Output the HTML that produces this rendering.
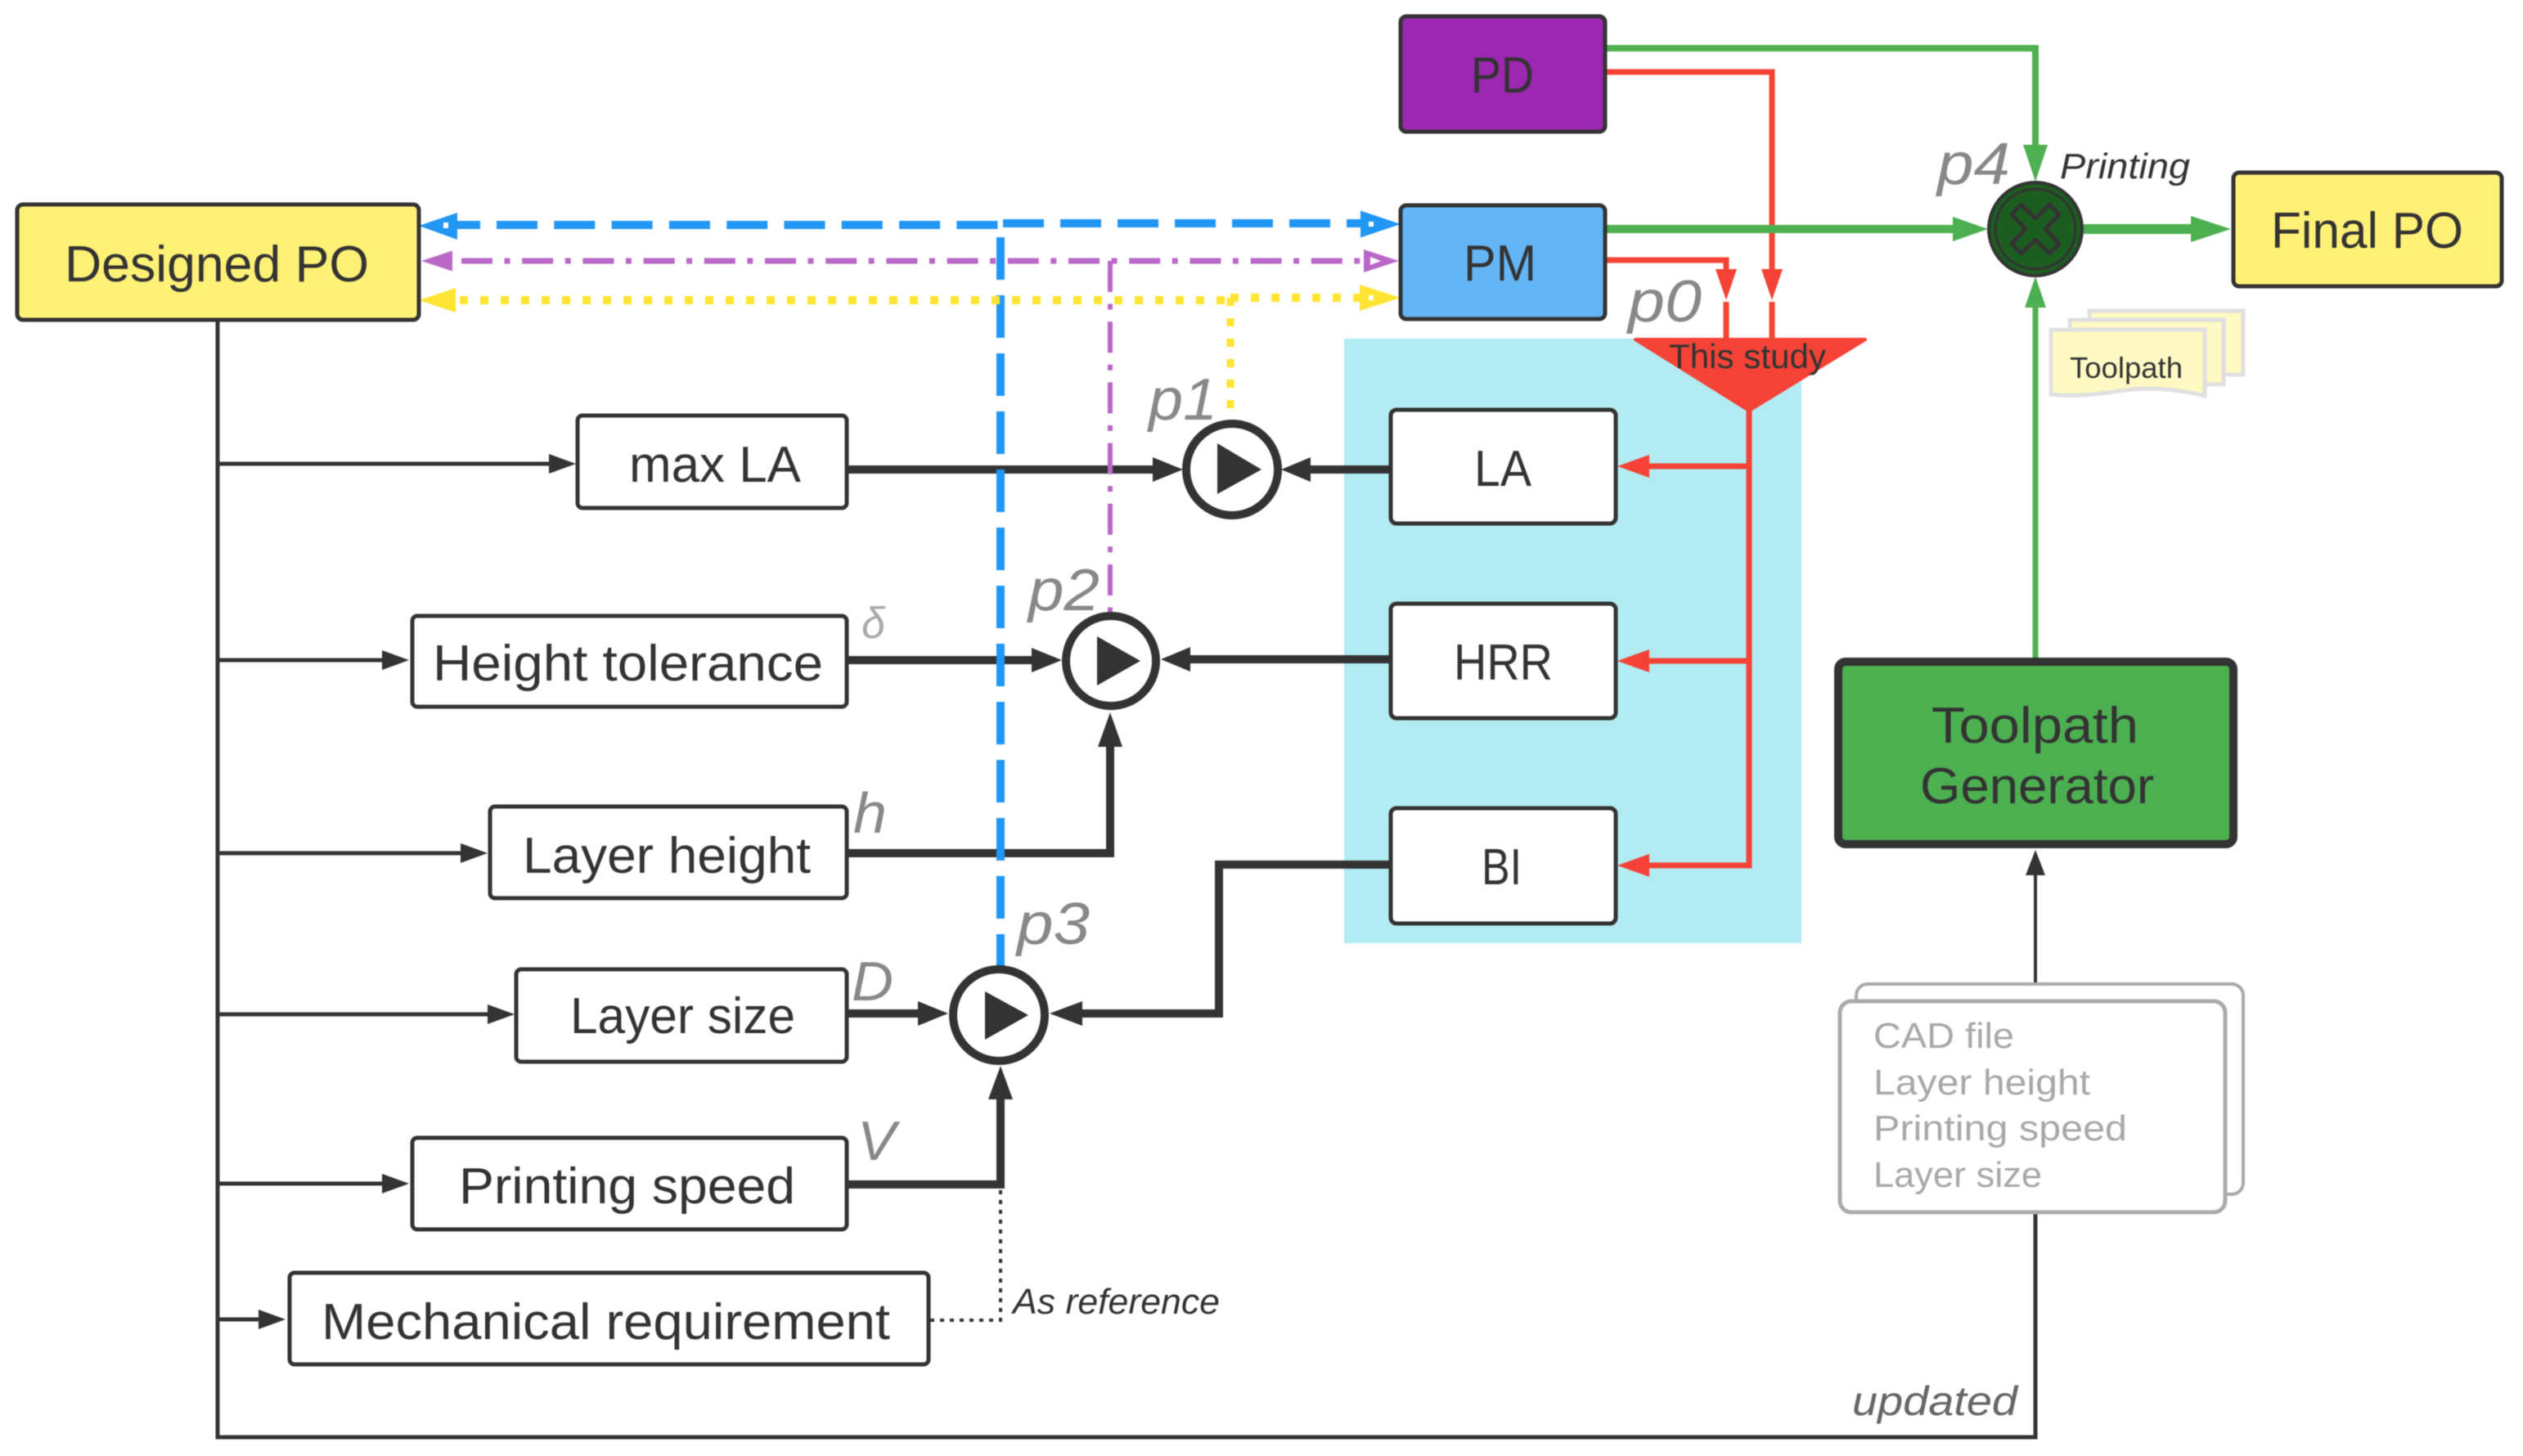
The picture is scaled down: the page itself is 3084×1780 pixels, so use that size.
<!DOCTYPE html>
<html><head><meta charset="utf-8"><style>
html,body{margin:0;padding:0;background:#fff}
svg{display:block;filter:blur(0.6px)}
text{font-family:"Liberation Sans",sans-serif;fill:#333}
.b{font-size:62px}
.p{font-size:72px;font-style:italic;fill:#888}
.i{font-size:44px;font-style:italic}
.g{font-size:44px;fill:#a8a8a8}
.k{fill:none;stroke:#333}
.box{fill:#fff;stroke:#333;stroke-width:5}
</style></head><body>
<svg xmlns="http://www.w3.org/2000/svg" width="3084" height="1780" viewBox="0 0 3084 1780">
<rect width="3084" height="1780" fill="#fff"/>
<rect x="1643" y="414" width="559" height="739" fill="#b2ebf2"/>

<!-- thin input lines -->
<g class="k" stroke-width="5">
<path d="M266 391V1757H2488V1482"/>
<path d="M2488 1203V1065" stroke-width="4"/>
<path d="M266 567H680M266 807H472M266 1043H570M266 1240H600M266 1447H472M266 1613H322"/>
</g>
<g fill="#333">
<path d="M704 567l-33-12v24zM500 807l-33-12v24zM596 1043l-33-12v24zM629 1240l-33-12v24zM500 1447l-33-12v24zM349 1613l-33-12v24z"/>
<path d="M2488 1039l-12 31h24z"/>
</g>

<!-- thick black connectors -->
<g class="k" stroke-width="10">
<path d="M1035 574H1415M1035 807H1265M1035 1043H1357V910M1035 1239H1125M1035 1448H1223V1340"/>
<path d="M1699 574H1600M1699 806H1450M1699 1057H1490V1239H1320"/>
</g>
<g fill="#333">
<path d="M1446 574l-37-15v30zM1298 807l-37-15v30zM1159 1239l-37-15v30z"/>
<path d="M1566 574l36-15v30zM1419 806l36-15v30zM1283 1239l40-15v30z"/>
<path d="M1357 871l-15 42h30zM1223 1303l-15 41h30z"/>
</g>

<!-- dotted reference -->
<path d="M1223 1455V1614H1137" fill="none" stroke="#333" stroke-width="4" stroke-dasharray="5 7"/>

<!-- red connectors -->
<g fill="none" stroke="#f44336" stroke-width="7">
<path d="M1962 88H2166V332"/>
<path d="M1962 318H2110V332"/>
<path d="M2110 369V414M2166 369V414"/>
<path d="M2138 500V1058H2000"/>
<path d="M2138 570H2010M2138 808H2010"/>
</g>
<g fill="#f44336">
<path d="M2110 367l-13-38h26zM2166 367l-13-38h26z"/>
<path d="M1977 570l39-14v28zM1977 808l39-14v28zM1977 1058l39-14v28z"/>
<path d="M1999 415H2280L2138 502z" stroke="#f44336" stroke-width="4" stroke-linejoin="round"/>
</g>

<!-- green connectors -->
<g fill="none" stroke="#4caf50">
<path d="M1962 59H2488V190" stroke-width="8"/>
<path d="M1962 280H2395" stroke-width="10"/>
<path d="M2547 280H2685" stroke-width="12"/>
<path d="M2488 808V370" stroke-width="7"/>
</g>
<g fill="#4caf50">
<path d="M2488 222l-15-45h30z"/>
<path d="M2430 280l-43-15v30z"/>
<path d="M2727 280l-49-16v32z"/>
<path d="M2488 338l-13 38h26z"/>
</g>

<!-- dashed lines -->
<g fill="none">
<path d="M559 275H587M607 275H1223" stroke="#2196f3" stroke-width="10" stroke-dasharray="50 20.3"/>
<path d="M559 275H587" stroke="#2196f3" stroke-width="10"/>
<path d="M1226 273H1680" stroke="#2196f3" stroke-width="10" stroke-dasharray="50 20"/>
<path d="M1223 290V1181" stroke="#2196f3" stroke-width="10" stroke-dasharray="52 19"/>
<path d="M564 319H1667" stroke="#ba68c8" stroke-width="7" stroke-dasharray="38 14.5 7 14.7"/>
<path d="M1357 319V749" stroke="#ba68c8" stroke-width="6" stroke-dasharray="38 14.5 7 14.7"/>
<path d="M562 367H1504" stroke="#ffe433" stroke-width="10" stroke-dasharray="10 15"/>
<path d="M1504 364H1665" stroke="#ffe433" stroke-width="10" stroke-dasharray="10 15"/>
<path d="M1504 364V514" stroke="#ffe433" stroke-width="9" stroke-dasharray="10 15"/>
</g>
<path d="M512 276l47-16v33zM1712 274l-49-16.500v33z" fill="#2196f3"/>
<path d="M515 319l38-12.500v25zM1710 319l-43-14v28z" fill="#ba68c8"/>
<path d="M512 367l45-15v30zM1712 364l-50-16v32z" fill="#ffe433"/>
<rect x="542" y="272" width="6" height="7" fill="#fff"/>
<rect x="1673" y="271" width="6" height="6" fill="#fff"/>
<path d="M1675 314v10l13-5z" fill="#fff"/>
<rect x="1673" y="361" width="6" height="6" fill="#fff"/>

<!-- Nodes -->
<rect x="21" y="250" width="491" height="141" rx="7" fill="#fff176" stroke="#333" stroke-width="5"/>
<rect x="1712" y="20" width="250" height="141" rx="7" fill="#9c27b0" stroke="#333" stroke-width="5"/>
<rect x="1712" y="251" width="250" height="139" rx="7" fill="#64b5f6" stroke="#333" stroke-width="5"/>
<rect x="2730" y="211" width="328" height="139" rx="7" fill="#fff176" stroke="#333" stroke-width="5"/>
<rect x="2247" y="809" width="483" height="223" rx="9" fill="#4caf50" stroke="#333" stroke-width="10"/>
<rect class="box" x="706" y="508" width="329" height="113" rx="6"/>
<rect class="box" x="504" y="753" width="531" height="111" rx="6"/>
<rect class="box" x="599" y="986" width="436" height="112" rx="6"/>
<rect class="box" x="631" y="1185" width="404" height="113" rx="6"/>
<rect class="box" x="504" y="1391" width="531" height="112" rx="6"/>
<rect class="box" x="354" y="1556" width="781" height="112" rx="6"/>
<rect class="box" x="1700" y="501" width="275" height="139" rx="7"/>
<rect class="box" x="1700" y="738" width="275" height="140" rx="7"/>
<rect class="box" x="1700" y="988" width="275" height="141" rx="7"/>

<!-- Circles -->
<g fill="#fff" stroke="#333" stroke-width="10">
<circle cx="1506" cy="574" r="56"/>
<circle cx="1358" cy="808" r="55"/>
<circle cx="1221" cy="1241" r="56"/>
</g>
<g fill="#333">
<path d="M1488 542L1542 574L1488 604z"/>
<path d="M1341 778L1394 808L1341 838z"/>
<path d="M1204 1212L1257 1241L1204 1271z"/>
</g>
<circle cx="2488" cy="280" r="57" fill="#1b5e20" stroke="#333" stroke-width="4"/>
<circle cx="2488" cy="280" r="49" fill="#1b5e20" stroke="#333" stroke-width="3"/>
<path d="M2488 267l17-17 12 12-17 18 17 18-12 12-17-17-17 17-12-12 17-18-17-18 12-12z" fill="#1b5e20" stroke="#333" stroke-width="5" stroke-linejoin="round"/>

<!-- Toolpath docs -->
<g fill="#fff9c4" stroke="#e0e0e0" stroke-width="5">
<rect x="2554" y="380" width="188" height="78"/>
<path d="M2530 391H2718V470H2640Q2580 478 2530 470z"/>
<path d="M2507 403H2695V484Q2640 470 2590 478T2507 482z"/>
</g>
<text x="2530" y="462" font-size="36" textLength="138" lengthAdjust="spacingAndGlyphs">Toolpath</text>

<!-- CAD stack -->
<rect x="2269" y="1203" width="473" height="257" rx="14" fill="#fff" stroke="#aaa" stroke-width="4"/>
<rect x="2249" y="1224" width="471" height="258" rx="14" fill="#fff" stroke="#aaa" stroke-width="5"/>
<text class="g" x="2290" y="1281" textLength="172" lengthAdjust="spacingAndGlyphs">CAD file</text>
<text class="g" x="2290" y="1338" textLength="265" lengthAdjust="spacingAndGlyphs">Layer height</text>
<text class="g" x="2290" y="1394" textLength="310" lengthAdjust="spacingAndGlyphs">Printing speed</text>
<text class="g" x="2290" y="1451" textLength="206" lengthAdjust="spacingAndGlyphs">Layer size</text>

<!-- Main labels -->
<text class="b" x="79" y="344" textLength="372" lengthAdjust="spacingAndGlyphs">Designed PO</text>
<text class="b" x="769" y="589" textLength="210" lengthAdjust="spacingAndGlyphs">max LA</text>
<text class="b" x="529" y="832" textLength="477" lengthAdjust="spacingAndGlyphs">Height tolerance</text>
<text class="b" x="639" y="1067" textLength="352" lengthAdjust="spacingAndGlyphs">Layer height</text>
<text class="b" x="697" y="1263" textLength="275" lengthAdjust="spacingAndGlyphs">Layer size</text>
<text class="b" x="561" y="1471" textLength="411" lengthAdjust="spacingAndGlyphs">Printing speed</text>
<text class="b" x="393" y="1637" textLength="695" lengthAdjust="spacingAndGlyphs">Mechanical requirement</text>
<text class="b" x="1798" y="113" textLength="77" lengthAdjust="spacingAndGlyphs">PD</text>
<text class="b" x="1789" y="343" textLength="89" lengthAdjust="spacingAndGlyphs">PM</text>
<text class="b" x="2776" y="303" textLength="235" lengthAdjust="spacingAndGlyphs">Final PO</text>
<text class="b" x="1802" y="594" textLength="70" lengthAdjust="spacingAndGlyphs">LA</text>
<text class="b" x="1777" y="831" textLength="121" lengthAdjust="spacingAndGlyphs">HRR</text>
<text class="b" x="1811" y="1081" textLength="49" lengthAdjust="spacingAndGlyphs">BI</text>
<text x="2361" y="908" style="font-size:62px" textLength="253" lengthAdjust="spacingAndGlyphs">Toolpath</text>
<text x="2347" y="982" style="font-size:62px" textLength="286" lengthAdjust="spacingAndGlyphs">Generator</text>
<text x="2040" y="450" style="font-size:42px" textLength="192" lengthAdjust="spacingAndGlyphs">This study</text>

<!-- Italic labels -->
<text class="p" x="1404" y="513" textLength="84" lengthAdjust="spacingAndGlyphs">p1</text>
<text class="p" x="1257" y="746" textLength="87" lengthAdjust="spacingAndGlyphs">p2</text>
<text class="p" x="1243" y="1154" textLength="89" lengthAdjust="spacingAndGlyphs">p3</text>
<text class="p" x="2368" y="225" textLength="89" lengthAdjust="spacingAndGlyphs">p4</text>
<text class="p" x="1990" y="393" textLength="90" lengthAdjust="spacingAndGlyphs">p0</text>
<text class="p" x="1043" y="1018" style="font-size:70px" textLength="41" lengthAdjust="spacingAndGlyphs">h</text>
<text class="p" x="1041" y="1223" style="font-size:68px" textLength="51" lengthAdjust="spacingAndGlyphs">D</text>
<text class="p" x="1048" y="1418" style="font-size:68px" textLength="47" lengthAdjust="spacingAndGlyphs">V</text>
<text class="p" x="1053" y="780" style="font-size:54px;fill:#aaa" textLength="29" lengthAdjust="spacingAndGlyphs">δ</text>
<text class="i" x="2518" y="218" textLength="159" lengthAdjust="spacingAndGlyphs">Printing</text>
<text class="i" x="1238" y="1606" textLength="253" lengthAdjust="spacingAndGlyphs">As reference</text>
<text class="i" x="2264" y="1730" style="font-size:50px;fill:#666" textLength="202" lengthAdjust="spacingAndGlyphs">updated</text>
</svg>
</body></html>
